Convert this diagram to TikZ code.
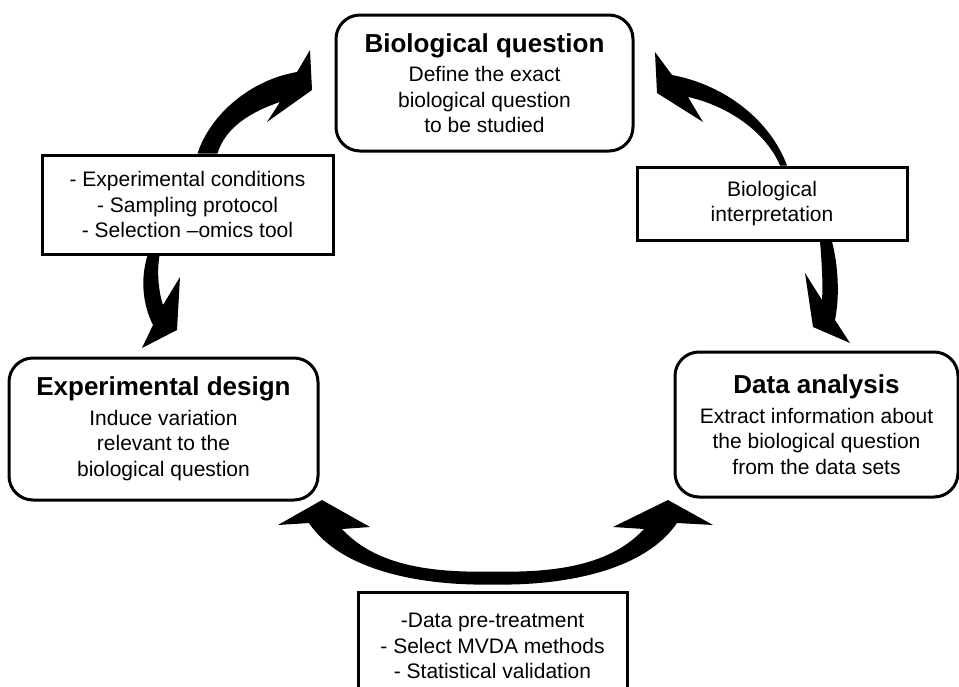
\documentclass[tikz,border=0pt]{standalone}
\usepackage{fontspec}
\setmainfont{Liberation Sans}
\usetikzlibrary{calc}

\newcommand{\stagetitle}[1]{{\fontsize{13}{15}\selectfont\bfseries #1}}

\begin{document}
\begin{tikzpicture}[x=0.5pt, y=-0.5pt,
    font=\fontsize{10.5}{12.75}\selectfont,
    stagebox/.style={draw, line width=1.5pt, rounded corners=12pt,
                     align=center, inner sep=0pt},
    notebox/.style={draw, line width=1.5pt, align=center, inner sep=0pt},
    bigarrow/.style={fill=black, draw=none}]
  \useasboundingbox (0,0) rectangle (959,686);
  \clip (0,0) rectangle (959,686);

  % the three stages
  \node (bq) [stagebox, minimum width=148.5pt, minimum height=68pt] at (484.5,83)
    {\stagetitle{Biological question}\\[2pt]
     Define the exact\\ biological question\\ to be studied};
  \node (ed) [stagebox, minimum width=154.5pt, minimum height=71pt] at (163.5,429)
    {\stagetitle{Experimental design}\\[2pt]
     Induce variation\\ relevant to the\\ biological question};
  \node (da) [stagebox, minimum width=141.5pt, minimum height=72.5pt] at (816.5,424.5)
    {\stagetitle{Data analysis}\\[2pt]
     Extract information about\\ the biological question\\ from the data sets};

  % what happens in between
  \node (cond) [notebox, minimum width=145.5pt, minimum height=49.5pt] at (187.5,204.5)
    {- Experimental conditions\\ - Sampling protocol\\ - Selection --omics tool};
  \node (interp) [notebox, minimum width=135pt, minimum height=36.5pt] at (772,203.5)
    {Biological\\ interpretation};
  \node (mvda) [notebox, minimum width=134.5pt, minimum height=54pt] at (492.5,646)
    {-Data pre-treatment\\ - Select MVDA methods\\ - Statistical validation};

  % curved block arrows
  \fill[bigarrow] ($(cond.north)+(10,0)$) .. controls (210,115) and (250,80) .. (297,72)
    -- (310,50) -- (312,90) -- (267,122) -- (280,102)
    .. controls (250,112) and (225,128) .. ($(cond.north)+(30,0)$) -- cycle;
  \fill[bigarrow] ($(cond.south)+(-40,0)$) .. controls (140,280) and (143,305) .. (153,325)
    -- (142,348) -- (177,330) -- (180,277) -- (163,305)
    .. controls (158,290) and (157,270) .. ($(cond.south)+(-28,0)$) -- cycle;
  \fill[bigarrow] ($(interp.north)+(15,0)$) .. controls (770,120) and (725,85) .. (672,75)
    -- (655,52) -- (657,93) -- (703,122) -- (688,97)
    .. controls (725,105) and (765,130) .. ($(interp.north)+(8,0)$) -- cycle;
  \fill[bigarrow] ($(interp.south)+(48,0)$) .. controls (822,265) and (823,285) .. (822,300)
    -- (805,273) -- (813,327) -- (850,343) -- (835,320)
    .. controls (840,295) and (838,265) .. ($(interp.south)+(60,0)$) -- cycle;
  \fill[bigarrow] (278,525) -- (322,500) -- (370,527) -- (342,529)
    .. controls (375,565) and (430,573) .. ($(mvda.north)+(0,-19)$)
    .. controls (556,573) and (611,565) .. (644,529)
    -- (613,527) -- (668,500) -- (713,525) -- (677,523)
    .. controls (645,570) and (566,586) .. ($(mvda.north)+(0,-6)$)
    .. controls (420,586) and (340,570) .. (309,523) -- cycle;
\end{tikzpicture}
\end{document}
